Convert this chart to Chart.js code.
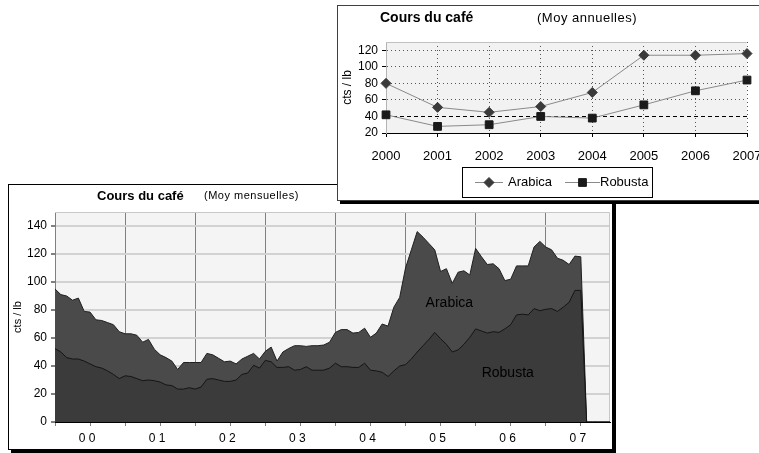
<!DOCTYPE html>
<html>
<head>
<meta charset="utf-8">
<script src="https://cdn.jsdelivr.net/npm/chart.js@4/dist/chart.umd.min.js"></script>
<style>
    body { margin: 0; background: #fff; overflow: hidden; width: 759px; height: 453px; position: relative; }
    #boxMois { position: absolute; left: 8px; top: 184px; width: 603px; height: 264px; border: 1px solid #000; box-shadow: 3px 3px 0 #000; background: #fff; }
    #boxAn { position: absolute; left: 337px; top: 5px; width: 430px; height: 194px; border: 1px solid #404040; box-shadow: 3px 3px 0 #000; background: #fff; }
    canvas { display: block; }
</style>
</head>
<body>
<div id="boxMois"><canvas id="chartMois" width="603" height="264"></canvas></div>
<div id="boxAn"><canvas id="chartAn" width="430" height="194"></canvas></div>
<script>
// moyennes annuelles (cts / lb)
const annees = ['2000', '2001', '2002', '2003', '2004', '2005', '2006', '2007'];
const arabicaAn = [80, 51, 45, 52, 69, 114, 114, 116];
const robustaAn = [42, 28, 30, 40, 38, 54, 71, 84];
const ticksAn = [20, 40, 60, 80, 100, 120];
const ligneRef = 40;

// moyennes mensuelles, janv. 2000 -> dec. 2007
const anneesMois = ['0 0', '0 1', '0 2', '0 3', '0 4', '0 5', '0 6', '0 7'];
const ticksMois = [0, 20, 40, 60, 80, 100, 120, 140];
const arabicaMois = [
    95, 91, 90, 87, 88.5, 79, 78.5, 73, 72.5, 71, 69.5, 64.5,
    63, 63, 62, 57, 59, 52, 48, 46, 43.5, 37.5, 42.5, 42.5,
    42.5, 42.5, 49, 48, 45.5, 43, 43.5, 41.5, 45, 47, 49, 45,
    50.5, 53.5, 43.5, 50, 52.5, 54.5, 54.5, 54, 54.5, 54.5, 55, 57,
    64, 66, 66, 63.5, 64, 67, 60.5, 63.5, 70, 68.5, 82, 89,
    110, 123, 136, 132, 127.5, 123, 107.5, 109.5, 99, 107, 108, 105,
    124, 118, 112.5, 113, 109.5, 101, 102, 111.5, 111.5, 111.5, 125, 129,
    125, 123, 117, 115.5, 112.5, 118.5, 118, 0, 0, 0, 0, 0
];
const robustaMois = [
    52.5, 50, 46, 45, 45, 43.5, 41.5, 39.5, 38.5, 36.5, 34, 31,
    33, 32.5, 31, 29.5, 30, 29.5, 28.5, 26.5, 26, 23.5, 23.5, 24.5,
    23.5, 25, 30.5, 31, 30, 29, 29, 30, 34, 35, 40.5, 38.5,
    44, 43, 39, 39, 39.5, 37, 37.5, 39.5, 37, 37, 37, 38.5,
    42, 39.5, 39.5, 39, 39, 42, 37, 36.5, 35.5, 32.5, 36.5, 40,
    41, 45, 50, 54.5, 59, 64, 59.5, 55.5, 50, 51.5, 55.5, 60.5,
    66.5, 65, 63.5, 64.5, 64, 66.5, 69.5, 76.5, 77, 76.5, 81, 79.5,
    80.5, 81, 79, 82, 85.5, 94, 94, 0, 0, 0, 0, 0
];

let mois = [];

for (let i = 0; i < anneesMois.length; i++)
{
    for (let m = 0; m < 12; m++)
    {
        mois.push(anneesMois[i])
    }
}

// fond gris du plot + bord haut/droit
const fondPlot =
{
    id: 'fondPlot',
    beforeDraw(chart, args, opts)
    {
        const { ctx, chartArea: a } = chart;
        ctx.save();
        ctx.fillStyle = opts.color;
        ctx.fillRect(a.left, a.top, a.width, a.height);
        ctx.restore();
    },
    beforeDatasetsDraw(chart, args, opts)
    {
        const { ctx, chartArea: a } = chart;
        ctx.save();
        ctx.strokeStyle = opts.border;
        ctx.lineWidth = 1;
        ctx.beginPath();
        ctx.moveTo(a.left, a.top + 0.5);
        ctx.lineTo(a.right - 0.5, a.top + 0.5);
        if (opts.right)
        {
            ctx.lineTo(a.right - 0.5, a.bottom);
        }
        ctx.stroke();
        ctx.restore();
    }
};

// titres dessines a la main
const titres =
{
    id: 'titres',
    afterDraw(chart, args, opts)
    {
        const ctx = chart.ctx;
        ctx.save();
        ctx.fillStyle = '#000';
        ctx.textBaseline = 'middle';
        opts.items.forEach((t) =>
        {
            ctx.font = t.font;
            ctx.letterSpacing = t.spacing || '0px';
            ctx.fillText(t.text, t.x, t.y);
        });
        ctx.restore();
    }
};

// etiquettes Arabica / Robusta dans les aires
const etiquettes =
{
    id: 'etiquettes',
    afterDatasetsDraw(chart, args, opts)
    {
        const ctx = chart.ctx;
        ctx.save();
        ctx.fillStyle = '#000';
        ctx.font = opts.font;
        ctx.textAlign = 'center';
        ctx.textBaseline = 'middle';
        opts.items.forEach((t) =>
        {
            ctx.fillText(t.text, chart.scales.x.getPixelForValue(t.index), chart.scales.y.getPixelForValue(t.value));
        });
        ctx.restore();
    }
};

// ligne pointillee a 40 cts
const ligne40 =
{
    id: 'ligne40',
    beforeDatasetsDraw(chart, args, opts)
    {
        const { ctx, chartArea: a } = chart;
        const y = Math.round(chart.scales.y.getPixelForValue(opts.value)) + 0.5;
        ctx.save();
        ctx.strokeStyle = '#000';
        ctx.lineWidth = 1;
        ctx.setLineDash([4, 3]);
        ctx.beginPath();
        ctx.moveTo(a.left, y);
        ctx.lineTo(a.right, y);
        ctx.stroke();
        ctx.restore();
    }
};

// legende encadree
const legende =
{
    id: 'legende',
    afterDraw(chart, args, opts)
    {
        const ctx = chart.ctx;
        const cy = opts.y + opts.h / 2;
        ctx.save();
        ctx.strokeStyle = '#000';
        ctx.lineWidth = 1;
        ctx.strokeRect(opts.x + 0.5, opts.y + 0.5, opts.w, opts.h);
        chart.data.datasets.forEach((ds, i) =>
        {
            const it = opts.items[i];
            ctx.strokeStyle = ds.borderColor;
            ctx.lineWidth = 1;
            ctx.beginPath();
            ctx.moveTo(it.x1, Math.round(cy) + 0.5);
            ctx.lineTo(it.x2, Math.round(cy) + 0.5);
            ctx.stroke();
            ctx.fillStyle = ds.pointBackgroundColor;
            ctx.strokeStyle = ds.pointBorderColor;
            Chart.helpers.drawPoint(ctx, { pointStyle: ds.pointStyle, radius: ds.pointRadius, borderWidth: 1 }, (it.x1 + it.x2) / 2, Math.round(cy) + 0.5);
            ctx.fillStyle = '#000';
            ctx.font = opts.font;
            ctx.textBaseline = 'middle';
            ctx.fillText(ds.label, it.xt, cy);
        });
        ctx.restore();
    }
};

const police = 'Arial, "Liberation Sans", sans-serif';

// largeur/hauteur d'axe fixes, sans marge laterale due aux etiquettes
const fixeX = (h) => (s) =>
{
    s.height = h;
    s.paddingLeft = 0;
    s.paddingRight = 0;
};

// ---- graphique mensuel (aires) ----
new Chart(document.getElementById('chartMois'),
{
    type: 'line',
    data:
    {
        labels: mois,
        datasets:
        [
            {
                label: 'Robusta',
                data: robustaMois,
                fill: 'origin',
                backgroundColor: '#3b3b3b',
                borderColor: '#151515',
                borderWidth: 1,
                pointRadius: 0,
                tension: 0
            },
            {
                label: 'Arabica',
                data: arabicaMois,
                fill: 'origin',
                backgroundColor: '#4a4a4a',
                borderColor: '#202020',
                borderWidth: 1,
                pointRadius: 0,
                tension: 0
            }
        ]
    },
    options:
    {
        responsive: false,
        animation: false,
        layout: { padding: { left: 0, right: 2, top: 27, bottom: 0 } },
        plugins:
        {
            legend: { display: false },
            tooltip: { enabled: false },
            fondPlot: { color: '#f4f4f4', border: '#c8c8c8', right: true },
            titres:
            {
                items:
                [
                    { text: 'Cours du café', x: 88, y: 11, font: 'bold 13px ' + police },
                    { text: '(Moy mensuelles)', x: 195, y: 11, font: '11px ' + police, spacing: '0.5px' }
                ]
            },
            etiquettes:
            {
                font: '14px ' + police,
                items:
                [
                    { text: 'Arabica', index: 67.5, value: 85 },
                    { text: 'Robusta', index: 77.5, value: 35 }
                ]
            }
        },
        scales:
        {
            x:
            {
                offset: false,
                afterFit: fixeX(27),
                border: { color: '#000', z: 1 },
                grid:
                {
                    color: (c) => (c.index % 12 === 0 && c.index > 0) ? '#808080' : 'rgba(0,0,0,0)',
                    tickColor: (c) => c.index % 6 === 0 ? '#808080' : 'rgba(0,0,0,0)',
                    tickLength: 4
                },
                ticks:
                {
                    autoSkip: false,
                    maxRotation: 0,
                    padding: 5,
                    labelOffset: -3,
                    color: '#000',
                    font: { family: police, size: 12 },
                    callback: function (v, i) { return i % 12 === 6 ? this.getLabelForValue(v) : '' }
                }
            },
            y:
            {
                min: 0,
                max: 150,
                afterFit: (s) => { s.width = 46 },
                afterBuildTicks: (s) => { s.ticks = ticksMois.map((v) => ({ value: v })) },
                border: { color: '#808080' },
                grid: { color: '#d2d2d2', lineWidth: 2, tickColor: '#808080', tickLength: 4 },
                ticks: { padding: 4, color: '#000', font: { family: police, size: 12 } },
                title: { display: true, text: 'cts / lb', color: '#000', padding: 2, font: { family: police, size: 11 } }
            }
        }
    },
    plugins: [fondPlot, titres, etiquettes]
});

// ---- graphique annuel (courbes) ----
new Chart(document.getElementById('chartAn'),
{
    type: 'line',
    data:
    {
        labels: annees,
        datasets:
        [
            {
                label: 'Arabica',
                data: arabicaAn,
                borderColor: '#8a8a8a',
                borderWidth: 1,
                pointStyle: 'rectRot',
                pointRadius: 5,
                pointBackgroundColor: '#3a3a3a',
                pointBorderColor: '#3a3a3a',
                tension: 0
            },
            {
                label: 'Robusta',
                data: robustaAn,
                borderColor: '#8a8a8a',
                borderWidth: 1,
                pointStyle: 'rect',
                pointRadius: 5.5,
                pointBackgroundColor: '#1a1a1a',
                pointBorderColor: '#1a1a1a',
                tension: 0
            }
        ]
    },
    options:
    {
        responsive: false,
        animation: false,
        layout: { padding: { left: 0, right: 21, top: 36, bottom: 39 } },
        plugins:
        {
            legend: { display: false },
            tooltip: { enabled: false },
            fondPlot: { color: '#f2f2f2', border: '#c0c0c0', right: false },
            ligne40: { value: ligneRef },
            titres:
            {
                items:
                [
                    { text: 'Cours du café', x: 42, y: 12, font: 'bold 14px ' + police },
                    { text: '(Moy annuelles)', x: 199, y: 12, font: '13px ' + police, spacing: '0.5px' }
                ]
            },
            legende:
            {
                x: 124, y: 161, w: 190, h: 30,
                font: '13px ' + police,
                items:
                [
                    { x1: 137, x2: 165, xt: 170 },
                    { x1: 227, x2: 262, xt: 262 }
                ]
            }
        },
        scales:
        {
            x:
            {
                offset: false,
                afterFit: fixeX(28),
                border: { color: '#000', dash: [1, 3] },
                grid:
                {
                    color: (c) => c.index === 0 ? 'rgba(0,0,0,0)' : '#555',
                    tickColor: '#000',
                    tickLength: 4
                },
                ticks: { padding: 12, maxRotation: 0, color: '#000', font: { family: police, size: 13 } }
            },
            y:
            {
                min: 20,
                max: 130,
                afterFit: (s) => { s.width = 48 },
                afterBuildTicks: (s) => { s.ticks = ticksAn.map((v) => ({ value: v })) },
                border: { color: '#b4b4b4', dash: [1, 3] },
                grid:
                {
                    color: (c) => (c.tick && (c.tick.value === 20 || c.tick.value === ligneRef)) ? 'rgba(0,0,0,0)' : '#555',
                    tickColor: '#000',
                    tickLength: 4
                },
                ticks: { padding: 4, color: '#000', font: { family: police, size: 12 } },
                title: { display: true, text: 'cts / lb', color: '#000', padding: 2, font: { family: police, size: 12 } }
            }
        }
    },
    plugins: [fondPlot, ligne40, titres, legende]
});
</script>
</body>
</html>
